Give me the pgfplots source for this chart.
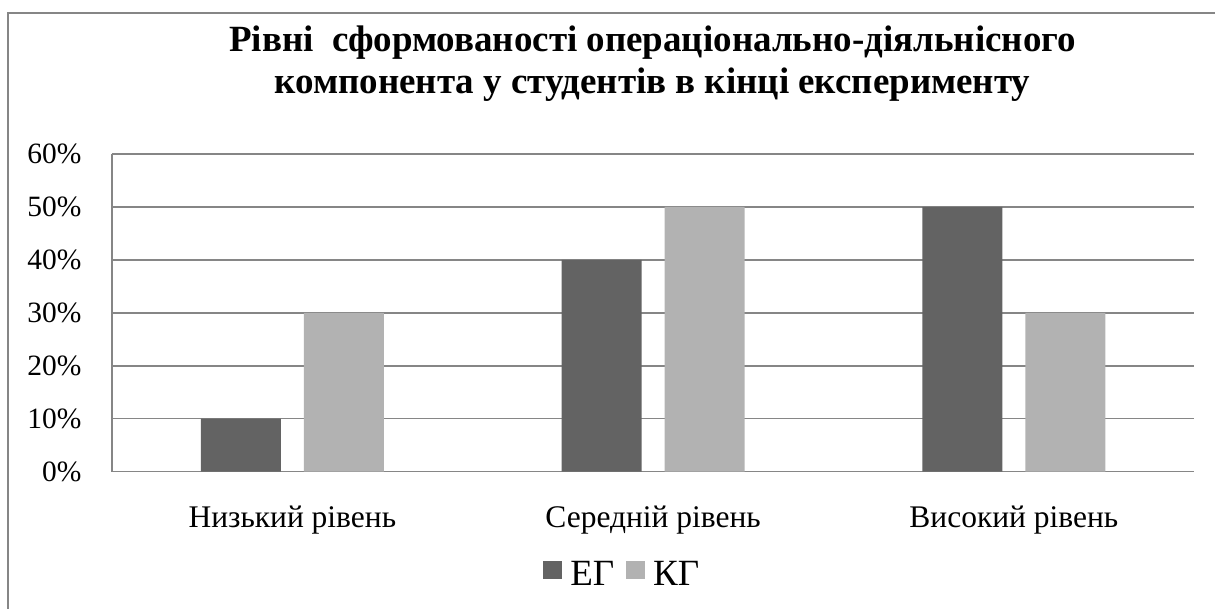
\documentclass[border=0pt]{standalone}
\usepackage{fontspec}
\setmainfont{Liberation Serif}[BoldFont={Liberation Serif Bold}]
\usepackage{pgfplots}
\pgfplotsset{compat=1.18}
\definecolor{eg}{HTML}{636363}
\definecolor{kg}{HTML}{B2B2B2}
\definecolor{gridc}{HTML}{868686}
\begin{document}
\begin{tikzpicture}[x=1pt,y=1pt]
\path (0,0) rectangle (1216,609);
\draw[gridc,line width=1.5pt] (8,0) -- (8,596) -- (1216,596);
\node[anchor=base,font=\fontsize{37}{42}\selectfont\bfseries] at (653,557) {Рівні\ \ сформованості операціонально-діяльнісного};
\node[anchor=base,font=\fontsize{37}{42}\selectfont\bfseries] at (653,515) {компонента у студентів в кінці експерименту};
\begin{axis}[
  at={(112pt,137pt)}, anchor=south west,
  scale only axis, width=1083pt, height=318pt,
  xmin=-0.5, xmax=2.5, ymin=0, ymax=60,
  ybar=23pt, bar width=80pt,
  xtick={0,1,2}, xticklabels={Низький рівень,Середній рівень,Високий рівень},
  ytick={0,10,20,30,40,50,60},
  yticklabels={0\%,10\%,20\%,30\%,40\%,50\%,60\%},
  major tick length=0pt,
  yticklabel style={font=\fontsize{29.5}{34}\selectfont, xshift=-27pt},
  xticklabel style={font=\fontsize{31.5}{36}\selectfont, yshift=-31pt},
  ymajorgrids, grid style={gridc,line width=1.5pt},
  axis x line*=bottom, axis y line*=left,
  axis line style={gridc,line width=1.5pt},
  legend style={at={(rel axis cs:0.472,-0.322)}, anchor=center, draw=none,
    legend columns=2, font=\fontsize{37}{42}\selectfont,
    nodes={inner xsep=3pt},
    /tikz/every odd column/.append style={column sep=5pt},
    /tikz/every even column/.append style={column sep=9pt}},
  legend image code/.code={\fill[#1] (0pt,-5pt) rectangle (19pt,13pt);},
]
\addplot[fill=eg,draw=none] coordinates {(0,10) (1,40) (2,50)};
\addplot[fill=kg,draw=none] coordinates {(0,30) (1,50) (2,30)};
\legend{ЕГ,КГ}
\end{axis}
\end{tikzpicture}
\end{document}
